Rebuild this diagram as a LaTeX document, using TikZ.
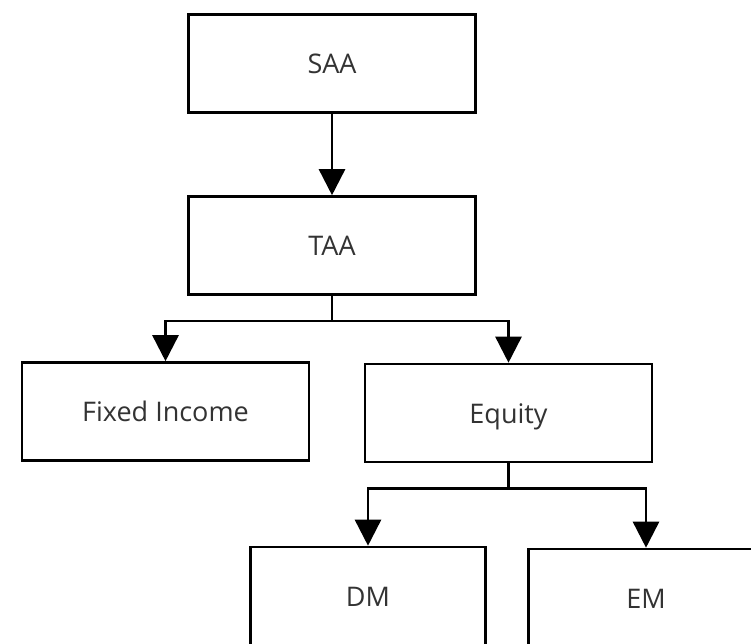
\documentclass[tikz,border=0pt]{standalone}
\usepackage{fontspec}
\setmainfont{Open Sans}
\usetikzlibrary{arrows.meta}
\begin{document}
\begin{tikzpicture}[x=1pt,y=-1pt,
box/.style={rectangle,draw=black,line width=2.6pt,minimum width=287pt,minimum height=98pt,inner sep=0pt,text height=20.5pt,text depth=0pt,font=\fontsize{27}{31}\selectfont,text=black!80},
smallbox/.style={box,minimum width=235pt},
link/.style={line width=2.6pt,-{Triangle[length=26pt,width=26pt]}}]

\useasboundingbox (0,0) rectangle (751,643);
\clip (0,0) rectangle (751,643);

\node (saa) at (332,63.5) [box] {SAA};
\node (taa) at (332,245.5) [box] {TAA};

\node (fi) at (165.5,411.5) [box] {Fixed Income};
\node (eq) at (508.5,413) [box] {Equity};

\node (dm) at (368,596) [smallbox] {DM};
\node (em) at (646,598) [smallbox] {EM};

\coordinate (split1) at (332,321);
\coordinate (split2) at (508.5,488.5);

\draw [link] (saa) -- (taa);

\draw [line width=2.6pt] (taa.south) -- (split1);
\draw [link] (split1) -| (fi.north);
\draw [link] (split1) -| (eq.north);

\draw [line width=2.6pt] (eq.south) -- (split2);
\draw [link] (split2) -| (dm.north);
\draw [link] (split2) -| (em.north);

\end{tikzpicture}
\end{document}
